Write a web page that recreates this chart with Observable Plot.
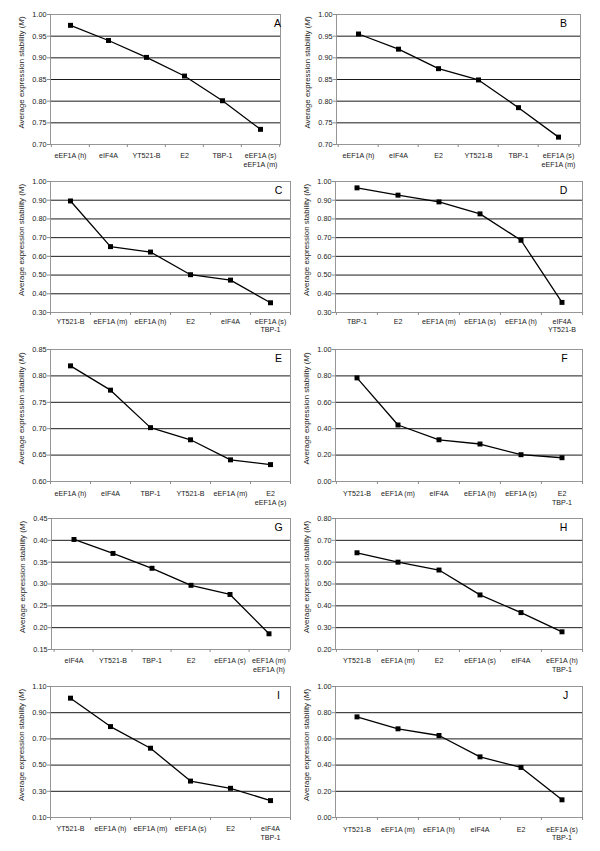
<!DOCTYPE html>
<html><head><meta charset="utf-8">
<script src="https://cdn.jsdelivr.net/npm/d3@7"></script>
<script src="https://cdn.jsdelivr.net/npm/@observablehq/plot@0.6"></script>
<style>
body{margin:0;background:#fff;}
#root{position:relative;width:600px;height:851px;background:#fff;overflow:hidden;}
#root svg{position:absolute;}
</style></head><body><div id="root"></div>
<script>
// ---- data ----
const catsA = ["eEF1A (h)", "eIF4A", "YT521-B", "E2", "TBP-1", "eEF1A (s)\neEF1A (m)"];
const valsA = [0.975, 0.940, 0.901, 0.858, 0.801, 0.735];
const ticksA = [0.70, 0.75, 0.80, 0.85, 0.90, 0.95, 1.00];

const catsB = ["eEF1A (h)", "eIF4A", "E2", "YT521-B", "TBP-1", "eEF1A (s)\neEF1A (m)"];
const valsB = [0.955, 0.920, 0.875, 0.849, 0.785, 0.717];
const ticksB = [0.70, 0.75, 0.80, 0.85, 0.90, 0.95, 1.00];

const catsC = ["YT521-B", "eEF1A (m)", "eEF1A (h)", "E2", "eIF4A", "eEF1A (s)\nTBP-1"];
const valsC = [0.896, 0.652, 0.623, 0.502, 0.473, 0.352];
const ticksC = [0.30, 0.40, 0.50, 0.60, 0.70, 0.80, 0.90, 1.00];

const catsD = ["TBP-1", "E2", "eEF1A (m)", "eEF1A (s)", "eEF1A (h)", "eIF4A\nYT521-B"];
const valsD = [0.966, 0.927, 0.891, 0.827, 0.686, 0.354];
const ticksD = [0.30, 0.40, 0.50, 0.60, 0.70, 0.80, 0.90, 1.00];

const catsE = ["eEF1A (h)", "eIF4A", "TBP-1", "YT521-B", "eEF1A (m)", "E2\neEF1A (s)"];
const valsE = [0.819, 0.773, 0.702, 0.679, 0.641, 0.632];
const ticksE = [0.60, 0.65, 0.70, 0.75, 0.80, 0.85];

const catsF = ["YT521-B", "eEF1A (m)", "eIF4A", "eEF1A (h)", "eEF1A (s)", "E2\nTBP-1"];
const valsF = [0.785, 0.428, 0.316, 0.284, 0.203, 0.180];
const ticksF = [0.00, 0.20, 0.40, 0.60, 0.80, 1.00];

const catsG = ["eIF4A", "YT521-B", "TBP-1", "E2", "eEF1A (s)", "eEF1A (m)\neEF1A (h)"];
const valsG = [0.402, 0.370, 0.336, 0.297, 0.276, 0.186];
const ticksG = [0.15, 0.20, 0.25, 0.30, 0.35, 0.40, 0.45];

const catsH = ["YT521-B", "eEF1A (m)", "E2", "eEF1A (s)", "eIF4A", "eEF1A (h)\nTBP-1"];
const valsH = [0.643, 0.600, 0.564, 0.450, 0.369, 0.281];
const ticksH = [0.20, 0.30, 0.40, 0.50, 0.60, 0.70, 0.80];

const catsI = ["YT521-B", "eEF1A (h)", "eEF1A (m)", "eEF1A (s)", "E2", "eIF4A\nTBP-1"];
const valsI = [1.011, 0.794, 0.629, 0.378, 0.323, 0.229];
const ticksI = [0.10, 0.30, 0.50, 0.70, 0.90, 1.10];

const catsJ = ["YT521-B", "eEF1A (m)", "eEF1A (h)", "eIF4A", "E2", "eEF1A (s)\nTBP-1"];
const valsJ = [0.768, 0.677, 0.626, 0.463, 0.382, 0.135];
const ticksJ = [0.00, 0.20, 0.40, 0.60, 0.80, 1.00];

const panelLetters = ["A", "B", "C", "D", "E", "F", "G", "H", "I", "J"];
const yLabelText = "Average expression stability (M)";

// ---- layout (pixel frame of each panel) ----
const layout = {
  A: {col: 0, x0: 50, x1: 280, y0: 14, y1: 144, letterX: 277, labelDy: 11},
  B: {col: 1, x0: 336, x1: 580, y0: 14, y1: 144, letterX: 563, labelDy: 11},
  C: {col: 0, x0: 50, x1: 290, y0: 181, y1: 312, letterX: 278, labelDy: 8.5},
  D: {col: 1, x0: 335, x1: 582, y0: 181, y1: 312, letterX: 563, labelDy: 8.5},
  E: {col: 0, x0: 50, x1: 290, y0: 349, y1: 481, letterX: 278, labelDy: 12},
  F: {col: 1, x0: 335, x1: 582, y0: 349, y1: 481, letterX: 564, labelDy: 12},
  G: {col: 0, x0: 51, x1: 290, y0: 518, y1: 649, letterX: 278, labelDy: 11},
  H: {col: 1, x0: 335, x1: 582, y0: 518, y1: 649, letterX: 563, labelDy: 11},
  I: {col: 0, x0: 50, x1: 290, y0: 686, y1: 817, letterX: 278, labelDy: 11},
  J: {col: 1, x0: 335, x1: 582, y0: 686, y1: 817, letterX: 565, labelDy: 11.5}
};

const panels = {
  A: {cats: catsA, vals: valsA, ticks: ticksA},
  B: {cats: catsB, vals: valsB, ticks: ticksB},
  C: {cats: catsC, vals: valsC, ticks: ticksC},
  D: {cats: catsD, vals: valsD, ticks: ticksD},
  E: {cats: catsE, vals: valsE, ticks: ticksE},
  F: {cats: catsF, vals: valsF, ticks: ticksF},
  G: {cats: catsG, vals: valsG, ticks: ticksG},
  H: {cats: catsH, vals: valsH, ticks: ticksH},
  I: {cats: catsI, vals: valsI, ticks: ticksI},
  J: {cats: catsJ, vals: valsJ, ticks: ticksJ}
};

const FONT = '"Liberation Sans", Arial, Helvetica, sans-serif';
const AXIS_GRAY = "#8c8c8c";
const root = document.getElementById("root");

function drawPanel(letter) {
  const p = panels[letter], L = layout[letter];
  const colLeft = L.col * 300;
  const pw = L.x1 - L.x0, ph = L.y1 - L.y0;
  const mt = 16, mb = 32;
  const n = p.cats.length;
  const bw = pw / n;
  const data = p.cats.map((c, i) => ({cat: c, value: p.vals[i]}));
  const interior = p.ticks.slice(1, -1);
  const chart = Plot.plot({
    width: 300,
    height: ph + mt + mb,
    marginLeft: L.x0 - colLeft,
    marginRight: colLeft + 300 - L.x1,
    marginTop: mt,
    marginBottom: mb,
    style: {background: "transparent", overflow: "visible", fontFamily: FONT, fontSize: "7.3px", color: "#222"},
    x: {type: "band", domain: p.cats, padding: 0, axis: null},
    y: {domain: [p.ticks[0], p.ticks[p.ticks.length - 1]], axis: null},
    marks: [
      Plot.ruleY(interior, {stroke: "#000", strokeWidth: 0.9}),
      Plot.frame({stroke: AXIS_GRAY, strokeWidth: 0.9}),
      Plot.tickY(p.ticks, {y: d => d, stroke: AXIS_GRAY, insetLeft: -3, insetRight: pw}),
      Plot.axisY(p.ticks, {tickSize: 0, tickPadding: 4, tickFormat: d3.format(".2f"), label: null, fontSize: 7.3, fill: "#222"}),
      Plot.tickX(p.cats, {x: d => d, dx: -bw / 2, stroke: AXIS_GRAY, insetTop: ph, insetBottom: -3}),
      Plot.tickX([p.cats[n - 1]], {x: d => d, dx: bw / 2, stroke: AXIS_GRAY, insetTop: ph, insetBottom: -3}),
      Plot.text(p.cats, {x: d => d, frameAnchor: "bottom", lineAnchor: "top", dy: L.labelDy - 3, lineHeight: 1.18, fontSize: 7.1, fill: "#222"}),
      Plot.line(data, {x: "cat", y: "value", stroke: "#000", strokeWidth: 1.3}),
      Plot.dot(data, {x: "cat", y: "value", symbol: "square", r: 2.8, fill: "#000", stroke: "none"}),
      Plot.text([letter], {frameAnchor: "top-right", dx: L.letterX - L.x1, dy: 9, textAnchor: "middle", lineAnchor: "middle", fontSize: 10.5, fill: "#000"}),
      Plot.text([yLabelText], {frameAnchor: "left", rotate: -90, dx: -29, dy: -7, textAnchor: "middle", lineAnchor: "middle", fontSize: 7.9, fill: "#222"})
    ]
  });
  chart.style.left = colLeft + "px";
  chart.style.top = (L.y0 - mt) + "px";
  // italicise the M of the y-axis title
  chart.querySelectorAll("text").forEach(t => {
    if (t.textContent === yLabelText) {
      t.textContent = "";
      const ns = "http://www.w3.org/2000/svg";
      const a = document.createElementNS(ns, "tspan"); a.textContent = "Average expression stability (";
      const m = document.createElementNS(ns, "tspan"); m.textContent = "M";
      if (letter !== "C") m.setAttribute("font-style", "italic");
      const b = document.createElementNS(ns, "tspan"); b.textContent = ")";
      t.append(a, m, b);
    }
  });
  root.appendChild(chart);
}

panelLetters.forEach(drawPanel);
</script>
</body></html>
